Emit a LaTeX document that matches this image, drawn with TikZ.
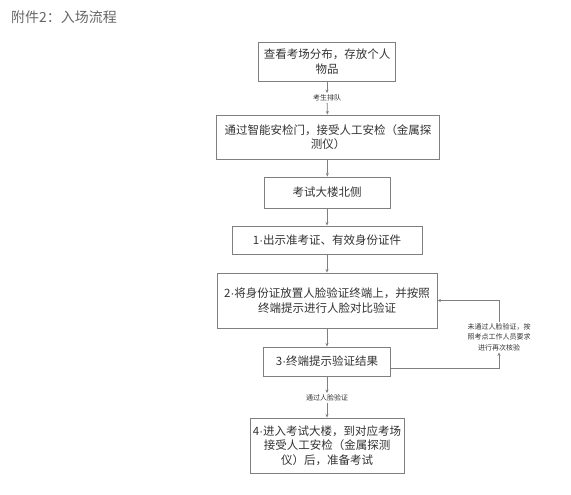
\documentclass[tikz,border=0pt]{standalone}
\usepackage{fontspec}
\newfontfamily\cjk{Noto Sans CJK SC}
\newfontfamily\lat{Liberation Sans}
\newcommand{\md}{{\lat\char"00B7}}
\usetikzlibrary{arrows.meta,calc}
\definecolor{boxline}{HTML}{7F7F7F}
\definecolor{txt}{HTML}{333333}
\begin{document}
\begin{tikzpicture}[x=1pt,y=-1pt,
  flowbox/.style={draw=boxline,line width=0.9pt,fill=white,text=txt,align=center,
    font=\cjk\fontsize{11.5}{14.5}\selectfont,inner sep=0pt},
  smalltxt/.style={text=txt,align=center,font=\cjk\fontsize{7}{10.5}\selectfont,inner sep=1.5pt},
  conn/.style={draw=boxline,line width=0.8pt,-{Stealth[length=3.5pt,width=3pt]}}]
\useasboundingbox (0,0) rectangle (571,495);
\node[anchor=west,text=black!60,font=\cjk\fontsize{14}{16}\selectfont,inner sep=0pt] (title) at (11,17) {附件2：入场流程};
\node[flowbox,minimum width=137pt,minimum height=39pt] (b1) at (327,61.5) {查看考场分布，存放个人\\物品};
\node[smalltxt] (l1) at (327,98) {考生排队};
\node[flowbox,minimum width=223pt,minimum height=44pt] (b2) at (328,137) {通过智能安检门，接受人工安检（金属探\\测仪）};
\node[flowbox,minimum width=126pt,minimum height=31pt] (b3) at (327,192.5) {考试大楼北侧};
\node[flowbox,minimum width=190pt,minimum height=28pt] (b4) at (327,240) {1\md 出示准考证、有效身份证件};
\node[flowbox,minimum width=220pt,minimum height=55pt] (b5) at (327,300.5) {2\md 将身份证放置人脸验证终端上，并按照\\终端提示进行人脸对比验证};
\node[flowbox,minimum width=127pt,minimum height=29pt] (b6) at (327,361.5) {3\md 终端提示验证结果};
\node[smalltxt] (l2) at (327,398) {通过人脸验证};
\node[flowbox,minimum width=154pt,minimum height=55pt] (b7) at (327,445.5) {4\md 进入考试大楼，到对应考场\\接受人工安检（金属探测\\仪）后，准备考试};
\node[smalltxt] (fb) at (499,337) {未通过人脸验证，按\\照考点工作人员要求\\进行再次核验};
\draw[conn] (b1) -- (l1);
\draw[conn] (l1) -- (b2);
\draw[conn] (b2) -- (b3);
\draw[conn] (b3) -- (b4);
\draw[conn] (b4) -- (b5);
\draw[conn] (b5) -- (b6);
\draw[conn] (b6) -- (l2);
\draw[conn] (l2) -- (b7);
\draw[conn] ([yshift=-6.5pt]b6.east) -| (fb.south);
\draw[conn] (fb.north) |- (b5.east);
\end{tikzpicture}
\end{document}
